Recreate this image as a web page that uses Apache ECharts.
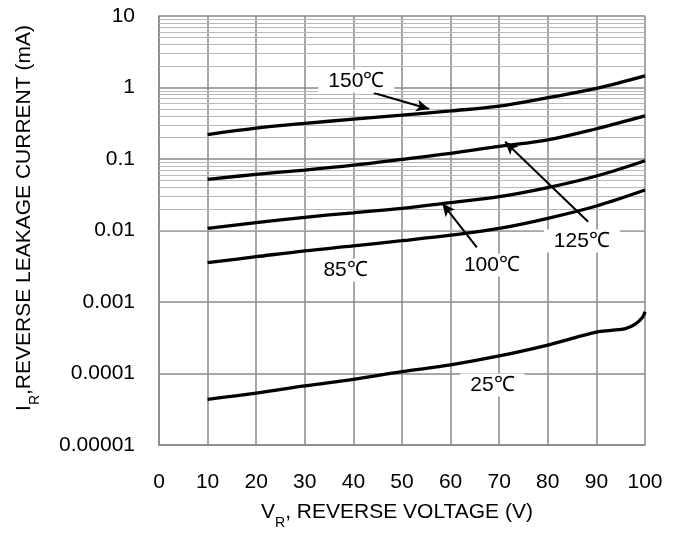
<!DOCTYPE html>
<html><head><meta charset="utf-8">
<script src="https://cdn.jsdelivr.net/npm/echarts@6/dist/echarts.min.js"></script>
<style>html,body{margin:0;padding:0;background:#fff}#c{width:680px;height:540px}</style>
</head><body><div id="c"></div>
<script>
// ---- data ----
const voltage = [10, 20, 30, 40, 50, 60, 70, 80, 90, 100];
const voltage25 = [10, 20, 30, 40, 50, 60, 70, 80, 85, 90, 93, 96, 98, 99.5, 100];
const i150 = [0.22, 0.27, 0.315, 0.36, 0.41, 0.47, 0.55, 0.72, 0.97, 1.45];
const i125 = [0.052, 0.061, 0.070, 0.082, 0.099, 0.12, 0.15, 0.185, 0.265, 0.40];
const i100 = [0.0107, 0.0129, 0.0153, 0.0177, 0.0204, 0.0245, 0.0297, 0.0398, 0.0578, 0.0947];
const i85 = [0.00355, 0.0043, 0.0052, 0.0061, 0.0072, 0.0086, 0.0107, 0.0148, 0.022, 0.0368];
const i25 = [4.36e-5, 5.3e-5, 6.7e-5, 8.3e-5, 1.06e-4, 1.32e-4, 1.76e-4, 2.5e-4, 3.1e-4, 3.8e-4, 4.02e-4, 4.25e-4, 4.9e-4, 6.1e-4, 7.3e-4];
const yTickLabels = ['0.00001', '0.0001', '0.001', '0.01', '0.1', '1', '10'];
const minorMultipliers = [2, 3, 4, 5, 6, 7, 8, 9];
const decadeExponents = [-5, -4, -3, -2, -1, 0];
const tempLabels = ['150℃', '125℃', '100℃', '85℃', '25℃'];

// annotation anchors (data coordinates)
const labelAt = [[40.6, 1.233], [87.0, 0.00713], [68.5, 0.00329], [38.4, 0.0028], [68.6, 6.9e-5]];
const arrows = [
  [[44.2, 0.838], [55.6, 0.50]],
  [[88.3, 0.01327], [71.2, 0.1746]],
  [[65.4, 0.00582], [58.3, 0.024]]
];

const minorValues = [];
decadeExponents.forEach(e => minorMultipliers.forEach(m => minorValues.push(m * Math.pow(10, e))));

const FONT = '"Liberation Sans", Arial, sans-serif';
const pairs = (xs, ys) => xs.map((x, i) => [x, ys[i]]);

const curveStyle = { color: '#000', width: 3.3 };
function curve(name, xs, ys) {
  return {
    name, type: 'line', data: pairs(xs, ys), smooth: 0.35, showSymbol: false,
    lineStyle: curveStyle, itemStyle: { color: '#000' }, z: 5, silent: true
  };
}

const chart = echarts.init(document.getElementById('c'), null, { renderer: 'canvas' });
chart.setOption({
  animation: false,
  backgroundColor: '#fff',
  grid: { left: 159, right: 35, top: 16, bottom: 95 },
  xAxis: {
    type: 'value', min: 0, max: 100, interval: 10,
    axisLine: { show: true, lineStyle: { color: '#888', width: 1.5 } },
    axisTick: { show: false },
    axisLabel: { color: '#000', fontSize: 21, fontFamily: FONT, margin: 27 },
    splitLine: { show: true, lineStyle: { color: '#888', width: 1.5 } }
  },
  yAxis: {
    type: 'log', logBase: 10, min: 0.00001, max: 10, splitNumber: 6,
    axisLine: { show: true, lineStyle: { color: '#888', width: 1.5 } },
    axisTick: { show: false },
    axisLabel: {
      color: '#000', fontSize: 21, fontFamily: FONT, margin: 24,
      formatter: v => yTickLabels[Math.round(Math.log10(v)) + 5]
    },
    splitLine: { show: true, lineStyle: { color: '#888', width: 1.5 } }
  },
  graphic: [
    {
      type: 'text', x: 397, y: 512, z: 10,
      style: {
        text: '{a|V}{s|R}{a|, REVERSE VOLTAGE (V)}',
        align: 'center', verticalAlign: 'middle',
        rich: {
          a: { fontSize: 21, fontFamily: FONT, fill: '#000', lineHeight: 24 },
          s: { fontSize: 14, fontFamily: FONT, fill: '#000', lineHeight: 14, padding: [22, 0, 0, 0] }
        }
      }
    },
    {
      type: 'text', x: 24, y: 218, rotation: Math.PI / 2, z: 10,
      style: {
        text: '{a|I}{s|R}{a|,REVERSE LEAKAGE CURRENT (mA)}',
        align: 'center', verticalAlign: 'middle',
        rich: {
          a: { fontSize: 21, fontFamily: FONT, fill: '#000', lineHeight: 24 },
          s: { fontSize: 14, fontFamily: FONT, fill: '#000', lineHeight: 14, padding: [22, 0, 0, 0] }
        }
      }
    }
  ],
  series: [
    {
      name: 'minor', type: 'line', data: [], z: 1, silent: true,
      markLine: {
        silent: true, symbol: ['none', 'none'], animation: false,
        label: { show: false },
        lineStyle: { color: '#b8b8b8', width: 1.2, type: 'solid' },
        emphasis: { disabled: true },
        data: minorValues.map(v => ({ yAxis: v }))
      }
    },
    curve('150℃', voltage, i150),
    curve('125℃', voltage, i125),
    curve('100℃', voltage, i100),
    curve('85℃', voltage, i85),
    curve('25℃', voltage25, i25),
    {
      name: 'annotations', type: 'line', data: [], z: 8, silent: true,
      markLine: {
        silent: true, animation: false, symbol: ['none', 'arrow'], symbolSize: [9, 13],
        label: { show: false },
        lineStyle: { color: '#000', width: 2, type: 'solid' },
        itemStyle: { color: '#000' },
        emphasis: { disabled: true },
        data: arrows.map(a => [{ coord: a[0] }, { coord: a[1] }])
      },
      markPoint: {
        silent: true, animation: false, symbol: 'rect', symbolSize: 1,
        itemStyle: { color: 'rgba(0,0,0,0)' },
        label: {
          show: true, position: 'inside', color: '#000', fontSize: 21, fontFamily: FONT,
          backgroundColor: '#fff', padding: [1, 10, 1, 10],
          formatter: p => p.name
        },
        data: tempLabels.map((t, i) => ({ name: t, coord: labelAt[i] }))
      }
    }
  ]
});
</script>
</body></html>
